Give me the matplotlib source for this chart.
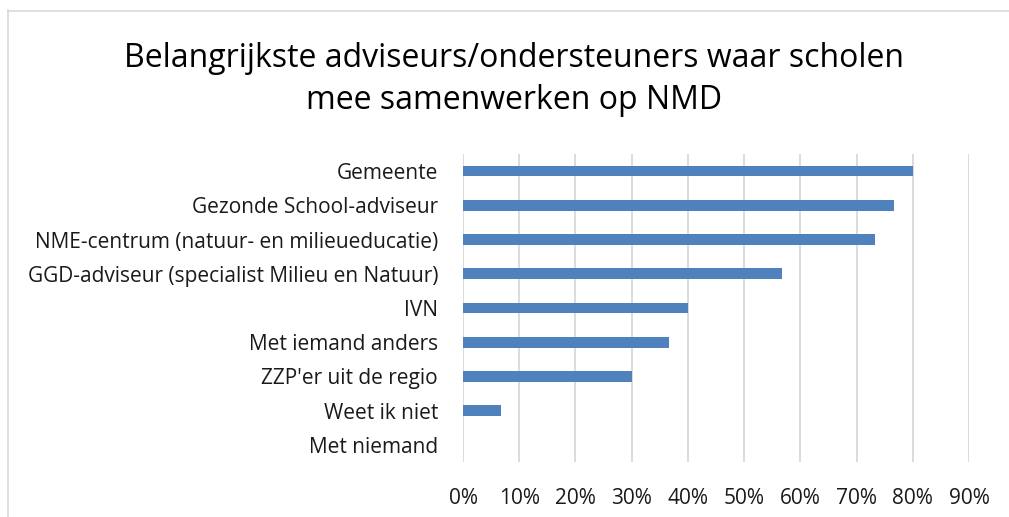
import matplotlib
matplotlib.use("Agg")
import matplotlib.pyplot as plt
from matplotlib.lines import Line2D
from matplotlib.ticker import MultipleLocator, FuncFormatter

categories = [
    "Gemeente",
    "Gezonde School-adviseur",
    "NME-centrum (natuur- en milieueducatie)",
    "GGD-adviseur (specialist Milieu en Natuur)",
    "IVN",
    "Met iemand anders",
    "ZZP'er uit de regio",
    "Weet ik niet",
    "Met niemand",
]
values = [80.0, 76.7, 73.3, 56.7, 40.0, 36.7, 30.0, 6.7, 0.0]
title = "Belangrijkste adviseurs/ondersteuners waar scholen\nmee samenwerken op NMD"

plt.rcParams['font.family'] = ['Open Sans', 'DejaVu Sans']

W, H = 1009, 517
fig = plt.figure(figsize=(W / 100, H / 100), dpi=100)
ax = fig.add_axes([463 / W, 1 - 462 / H, (969 - 463) / W, (462 - 154) / H])

ypos = list(range(len(categories)))
ax.barh(ypos, values, height=0.31, color="#4F81BD", zorder=3)
ax.set_ylim(len(categories) - 0.5, -0.5)
ax.set_yticks(ypos)
ax.set_yticklabels(categories, fontsize=15, color="#1a1a1a")
ax.set_xlim(0, 90)
ax.xaxis.set_major_locator(MultipleLocator(10))
ax.xaxis.set_major_formatter(FuncFormatter(lambda v, p: f"{int(round(v))}%"))
ax.tick_params(axis="x", labelsize=15, colors="#1a1a1a", length=0, pad=19)
ax.tick_params(axis="y", length=0, pad=18)
ax.grid(axis="x", color="#D9D9D9", linewidth=1.3, zorder=0)
for s in ax.spines.values():
    s.set_visible(False)

fig.text(514 / W, 1 - 79.5 / H, title, ha="center", va="center", fontsize=23,
         color="#000000", linespacing=1.38)

fig.add_artist(Line2D([7.5 / W, 7.5 / W], [0, 1 - 10 / H], color="#D9D9D9", lw=1.2,
                      transform=fig.transFigure))
fig.add_artist(Line2D([7.5 / W, 1], [1 - 10.5 / H, 1 - 10.5 / H], color="#D9D9D9", lw=1.2,
                      transform=fig.transFigure))

fig.savefig("out.png", dpi=100)
